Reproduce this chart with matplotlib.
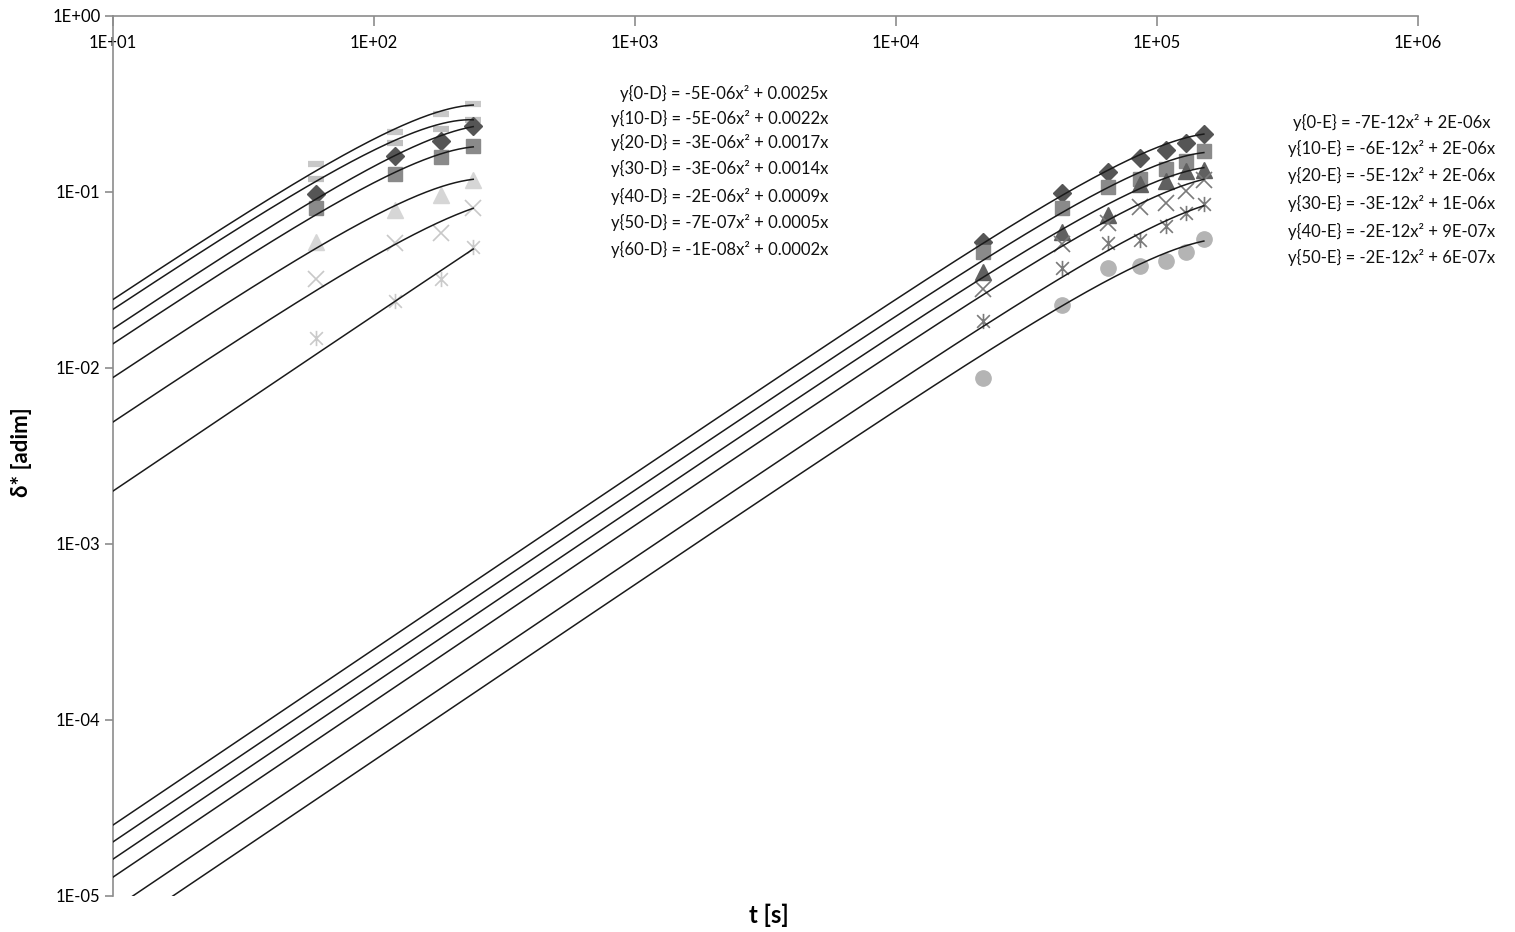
import numpy as np
import matplotlib
matplotlib.use("Agg")
import matplotlib.pyplot as plt
from matplotlib.path import Path
from matplotlib.ticker import FixedLocator, FuncFormatter, NullLocator

plt.rcParams['font.family'] = ['Lato', 'DejaVu Sans']

# ---------------- data ----------------
t_D = [60, 120, 180, 240]
series_D = ["0-D", "10-D", "20-D", "30-D", "40-D", "50-D", "60-D"]
vals_0D = [0.144, 0.219, 0.278, 0.316]
vals_10D = [0.118, 0.190, 0.228, 0.257]
vals_20D = [0.0975, 0.160, 0.195, 0.237]
vals_30D = [0.081, 0.127, 0.158, 0.183]
vals_40D = [0.052, 0.079, 0.096, 0.117]
vals_50D = [0.032, 0.0513, 0.0585, 0.081]
vals_60D = [0.0148, 0.024, 0.032, 0.0487]
# trendline coefficients y = a2*x^2 + a1*x
a2_D = [-5e-06, -4.7e-06, -3e-06, -2.7e-06, -1.7e-06, -6.8e-07, -1e-08]
a1_D = [0.0025, 0.0022, 0.0017, 0.0014, 0.0009, 0.0005, 0.0002]
eq_D = ["y{0-D} = -5E-06x² + 0.0025x",
        "y{10-D} = -5E-06x² + 0.0022x",
        "y{20-D} = -3E-06x² + 0.0017x",
        "y{30-D} = -3E-06x² + 0.0014x",
        "y{40-D} = -2E-06x² + 0.0009x",
        "y{50-D} = -7E-07x² + 0.0005x",
        "y{60-D} = -1E-08x² + 0.0002x"]

t_E = [21600, 43200, 64800, 86400, 108000, 129600, 151200]
series_E = ["0-E", "10-E", "20-E", "30-E", "40-E", "50-E"]
vals_0E = [0.0522, 0.0983, 0.1304, 0.1554, 0.173, 0.1906, 0.2128]
vals_10E = [0.0458, 0.0808, 0.1072, 0.118, 0.135, 0.1506, 0.1717]
vals_20E = [0.0353, 0.0595, 0.0740, 0.111, 0.1155, 0.1316, 0.1334]
vals_30E = [0.028, 0.0506, 0.0664, 0.0825, 0.0869, 0.1017, 0.117]
vals_40E = [0.0186, 0.0372, 0.0511, 0.0534, 0.0641, 0.0757, 0.0855]
vals_50E = [0.0088, 0.0228, 0.0368, 0.0381, 0.0405, 0.0458, 0.0538]
a2_E = [-7.4e-12, -6.1e-12, -4.7e-12, -3.3e-12, -1.9e-12, -1.6e-12]
a1_E = [2.53e-06, 2.03e-06, 1.62e-06, 1.28e-06, 8.4e-07, 5.9e-07]
eq_E = ["y{0-E} = -7E-12x² + 2E-06x",
        "y{10-E} = -6E-12x² + 2E-06x",
        "y{20-E} = -5E-12x² + 2E-06x",
        "y{30-E} = -3E-12x² + 1E-06x",
        "y{40-E} = -2E-12x² + 9E-07x",
        "y{50-E} = -2E-12x² + 6E-07x"]

x_ticks = [1e1, 1e2, 1e3, 1e4, 1e5, 1e6]
y_ticks = [1e-5, 1e-4, 1e-3, 1e-2, 1e-1, 1e0]

vals_D = [vals_0D, vals_10D, vals_20D, vals_30D, vals_40D, vals_50D, vals_60D]
vals_E = [vals_0E, vals_10E, vals_20E, vals_30E, vals_40E, vals_50E]

# ---------------- styles ----------------
star = Path([(-1, -1), (1, 1), (-1, 1), (1, -1), (0, -1.2), (0, 1.2)],
            [Path.MOVETO, Path.LINETO, Path.MOVETO, Path.LINETO, Path.MOVETO, Path.LINETO])

style_D = [
    dict(marker='_', ms=11, mew=4.5, color='#c8c8c8'),
    dict(marker='_', ms=11, mew=4.5, color='#c0c0c0'),
    dict(marker='D', ms=9, color='#555555', mec='#555555'),
    dict(marker='s', ms=10, color='#8a8a8a', mec='#8a8a8a'),
    dict(marker='^', ms=11, color='#d6d6d6', mec='#d6d6d6'),
    dict(marker='x', ms=11, mew=1.2, color='#c8c8c8'),
    dict(marker=star, ms=11, mew=1.2, color='#cacaca'),
]
style_E = [
    dict(marker='D', ms=9, color='#555555', mec='#555555'),
    dict(marker='s', ms=10, color='#8a8a8a', mec='#8a8a8a'),
    dict(marker='^', ms=11, color='#606060', mec='#606060'),
    dict(marker='x', ms=11, mew=1.2, color='#7a7a7a'),
    dict(marker=star, ms=11, mew=1.2, color='#7a7a7a'),
    dict(marker='o', ms=11, color='#b4b4b4', mec='#b4b4b4'),
]

fig = plt.figure(figsize=(15.15, 9.32), dpi=100)
ax = fig.add_axes([113/1515, 1 - 896/932, (1418-113)/1515, (896-16)/932])
ax.set_xscale('log')
ax.set_yscale('log')
ax.set_xlim(10, 1e6)
ax.set_ylim(1e-5, 1)

# markers
for v, st in zip(vals_D, style_D):
    ax.plot(t_D, v, linestyle='none', zorder=2, **st)
for v, st in zip(vals_E, style_E):
    ax.plot(t_E, v, linestyle='none', zorder=2, **st)

# trendlines
xd = np.logspace(1, np.log10(t_D[-1]), 300)
for a2, a1 in zip(a2_D, a1_D):
    ax.plot(xd, a2 * xd**2 + a1 * xd, color='#1a1a1a', lw=1.1, zorder=3)
xe = np.logspace(1, np.log10(t_E[-1]), 600)
for a2, a1 in zip(a2_E, a1_E):
    ax.plot(xe, a2 * xe**2 + a1 * xe, color='#1a1a1a', lw=1.1, zorder=3)

# equations
eq_D_y = [93, 118, 142, 168, 196, 222, 249]
for s, py in zip(eq_D, eq_D_y):
    fig.text(828/1515, 1 - py/932, s, ha='right', va='center', fontsize=12, color='#111111')
eq_E_y = [122, 148, 175, 203, 231, 257]
for s, py in zip(eq_E, eq_E_y):
    fig.text(1392/1515, 1 - py/932, s, ha='center', va='center', fontsize=12, color='#111111')

# axes styling
for sp in ['bottom', 'right']:
    ax.spines[sp].set_visible(False)
for sp in ['top', 'left']:
    ax.spines[sp].set_color('#8c8c8c')
    ax.spines[sp].set_linewidth(1.2)

fmt = FuncFormatter(lambda v, p: "{:.0E}".format(v))
ax.xaxis.set_major_locator(FixedLocator(x_ticks))
ax.xaxis.set_minor_locator(NullLocator())
ax.yaxis.set_major_locator(FixedLocator(y_ticks))
ax.yaxis.set_minor_locator(NullLocator())
ax.xaxis.set_major_formatter(fmt)
ax.yaxis.set_major_formatter(fmt)
ax.tick_params(axis='x', top=True, bottom=False, labeltop=True, labelbottom=False,
               direction='in', length=7, width=1.2, color='#8c8c8c', pad=-14, labelsize=12)
ax.tick_params(axis='y', left=True, right=False, direction='out', length=6, width=1.2,
               color='#8c8c8c', pad=3, labelsize=12)
for lbl in ax.get_xticklabels():
    lbl.set_verticalalignment('top')

fig.text(22/1515, 1 - 452/932, "δ* [adim]", rotation=90, ha='center', va='center',
         fontsize=16, fontweight='bold')
fig.text(769/1515, 1 - 915/932, "t [s]", ha='center', va='center', fontsize=17,
         fontweight='bold')

fig.savefig('out.png', dpi=100)
